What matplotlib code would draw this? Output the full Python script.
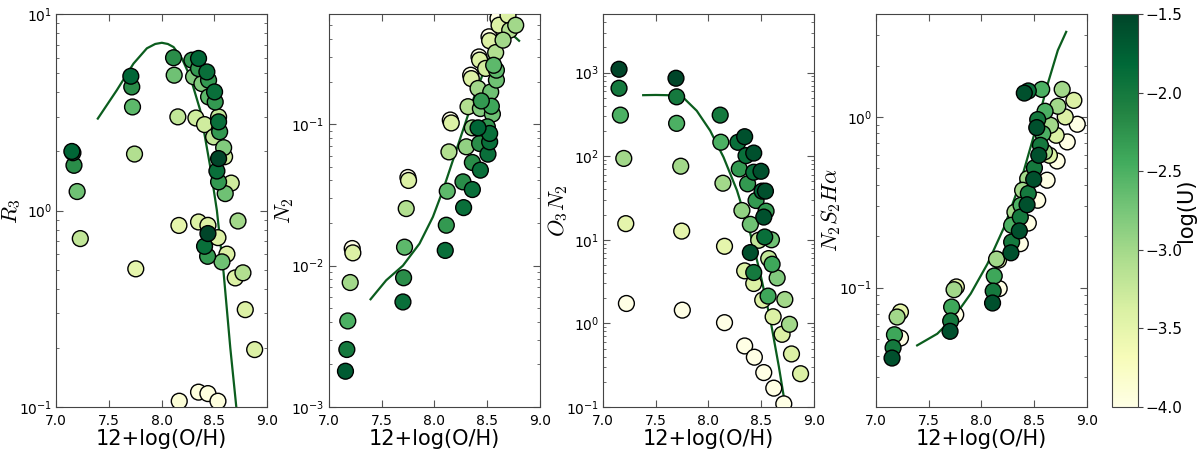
import numpy as np
import matplotlib.pyplot as plt
import matplotlib as mpl

# ---- panel 1: R3 ----
r3_x = [7.15, 7.16, 7.17, 7.20, 7.23,
        7.709, 7.718, 7.725, 7.744, 7.756,
        8.114, 8.120, 8.155, 8.165, 8.168,
        8.288, 8.351, 8.351, 8.304, 8.383, 8.430, 8.446, 8.503, 8.446, 8.509,
        8.326, 8.408, 8.541, 8.541, 8.551, 8.494, 8.589, 8.598, 8.541, 8.525,
        8.541, 8.661, 8.604,
        8.351, 8.440, 8.440, 8.535, 8.408, 8.437, 8.620, 8.573, 8.725, 8.699,
        8.772, 8.794, 8.883, 8.351, 8.440, 8.535]
r3_y = [2.0, 1.97, 1.70, 1.25, 0.72,
        4.83, 4.26, 3.37, 1.94, 0.505,
        6.0, 4.89, 3.0, 0.84, 0.107,
        5.83, 5.95, 5.28, 4.80, 4.43, 5.08, 4.61, 4.02, 3.79, 3.57,
        2.96, 2.74, 3.0, 2.83, 2.52, 2.37, 2.09, 1.88, 1.84, 1.59,
        1.40, 1.38, 1.22,
        0.875, 0.841, 0.764, 0.728, 0.658, 0.585, 0.60, 0.548, 0.885, 0.454,
        0.482, 0.313, 0.196, 0.119, 0.117, 0.107]
r3_u = [-1.8, -1.9, -2.2, -2.7, -3.2,
        -1.8, -2.2, -2.6, -3.1, -3.5,
        -2.2, -2.7, -3.2, -3.5, -3.9,
        -2.3, -1.8, -2.3, -2.8, -2.8, -1.9, -2.3, -1.9, -2.6, -2.3,
        -3.3, -3.3, -3.2, -1.9, -2.3, -3.2, -2.8, -3.3, -1.5, -1.9,
        -2.3, -3.3, -2.7,
        -3.4, -3.4, -1.5, -3.4, -1.9, -2.3, -3.4, -2.7, -3.0, -3.4,
        -3.1, -3.4, -3.4, -3.95, -3.95, -3.95]
r3_cx = [7.396, 7.576, 7.734, 7.861, 7.94, 8.003, 8.06, 8.114, 8.193, 8.272,
         8.367, 8.462, 8.525, 8.589, 8.652, 8.709]
r3_cy = [2.94, 4.1, 5.6, 6.7, 7.05, 7.15, 7.05, 6.8, 5.95, 4.8,
         3.24, 1.67, 1.0, 0.48, 0.2, 0.1]

# ---- panel 2: N2 ----
n2_x = [7.158, 7.171, 7.180, 7.203, 7.222, 7.228,
        7.703, 7.709, 7.718, 7.734, 7.750, 7.756,
        8.104, 8.114, 8.123, 8.139, 8.152, 8.161,
        8.278, 8.272, 8.361, 8.361, 8.304, 8.437, 8.415, 8.361, 8.430, 8.509,
        8.525, 8.525, 8.503, 8.446, 8.437, 8.541, 8.551, 8.320, 8.415, 8.535,
        8.589, 8.589, 8.563, 8.487, 8.345, 8.351, 8.424, 8.430, 8.582, 8.519,
        8.525, 8.652, 8.715, 8.772, 8.604, 8.614, 8.699]
n2_y = [1.79e-3, 2.55e-3, 4.06e-3, 7.59e-3, 1.32e-2, 1.23e-2,
        5.53e-3, 8.2e-3, 1.35e-2, 2.53e-2, 4.2e-2, 4.0e-2,
        1.28e-2, 1.93e-2, 3.36e-2, 6.37e-2, 0.107, 0.102,
        2.57e-2, 3.91e-2, 3.45e-2, 5.36e-2, 6.92e-2, 4.73e-2, 9.42e-2, 9.42e-2,
        7.3e-2, 6.14e-2, 7.5e-2, 8.6e-2, 9.58e-2, 0.146, 0.129, 0.134, 0.118,
        0.133, 0.179, 0.169, 0.205, 0.241, 0.261, 0.248, 0.222, 0.21, 0.299,
        0.284, 0.321, 0.415, 0.389, 0.393, 0.462, 0.501, 0.56, 0.501, 0.59]
n2_u = [-1.7, -2.0, -2.5, -3.0, -4.0, -3.4,
        -1.9, -2.2, -2.6, -3.1, -4.0, -3.4,
        -1.9, -2.3, -2.6, -3.1, -4.0, -3.4,
        -1.9, -2.2, -1.9, -2.2, -2.9, -1.9, -1.8, -2.9, -2.2, -1.9,
        -1.9, -1.9, -2.3, -2.3, -2.8, -2.4, -2.7, -3.1, -3.0, -2.7,
        -2.7, -2.6, -2.6, -3.3, -4.0, -3.4, -4.0, -3.4, -3.1, -4.0,
        -3.4, -3.0, -3.1, -3.0, -4.0, -3.4, -3.4]
n2_cx = [7.396, 7.544, 7.703, 7.86, 7.987, 8.082, 8.177, 8.272, 8.367, 8.462,
         8.557, 8.62, 8.684, 8.74, 8.804]
n2_cy = [0.00578, 0.00787, 0.0100, 0.0143, 0.0221, 0.0341, 0.0556, 0.0907,
         0.148, 0.228, 0.334, 0.40, 0.438, 0.43, 0.389]

# ---- panel 3: O3N2 ----
o3n2_x = [7.152, 7.152, 7.165, 7.197, 7.216, 7.222,
          7.692, 7.698, 7.698, 7.737, 7.746, 7.752,
          8.111, 8.117, 8.137, 8.152, 8.152,
          8.279, 8.343, 8.356, 8.429, 8.292, 8.429, 8.498, 8.371, 8.508, 8.540,
          8.451, 8.546, 8.524, 8.317, 8.397, 8.476, 8.533, 8.597, 8.397, 8.571,
          8.603, 8.429, 8.343, 8.651, 8.429, 8.565, 8.514, 8.724, 8.613, 8.768,
          8.698, 8.343, 8.787, 8.435, 8.524, 8.873, 8.619, 8.714]
o3n2_y = [1096, 650, 310, 94, 15.6, 1.73,
          856, 513, 247, 75.9, 12.7, 1.44,
          310, 147, 47.5, 8.36, 1.02,
          146.6, 171, 101.6, 109, 70.5, 64.3, 66, 46.7, 38.2, 38.2,
          29.5, 22, 18.7, 22.4, 15.3, 9.86, 10.8, 10.0, 7.03, 5.96,
          5.1, 4.06, 4.25, 3.5, 3.0, 2.12, 1.9, 1.93, 1.2, 0.975,
          0.74, 0.537, 0.431, 0.394, 0.258, 0.25, 0.168, 0.109]
o3n2_u = [-1.5, -2.0, -2.5, -3.0, -3.5, -4.0,
          -1.5, -2.0, -2.5, -3.0, -3.5, -4.0,
          -2.0, -2.5, -3.0, -3.5, -4.0,
          -1.9, -1.6, -1.9, -1.6, -2.3, -1.9, -1.6, -2.3, -1.8, -1.6,
          -2.3, -2.3, -1.6, -2.9, -2.7, -3.2, -1.9, -2.7, -1.6, -3.2,
          -2.4, -2.0, -3.4, -2.8, -3.4, -2.4, -3.4, -3.0, -3.4, -3.0,
          -3.4, -4.0, -3.4, -4.0, -4.0, -3.4, -4.0, -4.0]
o3n2_cx = [7.381, 7.50, 7.603, 7.70, 7.762, 7.889, 8.016, 8.143, 8.27, 8.397,
           8.492, 8.587, 8.667, 8.73]
o3n2_cy = [537, 540, 537, 530, 501, 349, 202, 97, 39, 11.8, 3.9, 1.1, 0.305, 0.1]

# ---- panel 4: N2S2Ha ----
n2s2_x = [7.152, 7.162, 7.175, 7.232, 7.200, 7.232,
          7.702, 7.708, 7.717, 7.756, 7.740, 7.762,
          8.105, 8.111, 8.121, 8.168, 8.143, 8.162,
          8.406, 8.444, 8.571, 8.765, 8.876, 8.724, 8.603, 8.533, 8.654, 8.794,
          8.908, 8.524, 8.581, 8.708, 8.813, 8.559, 8.597, 8.543, 8.644, 8.717,
          8.502, 8.438, 8.495, 8.622, 8.390, 8.444, 8.533, 8.432, 8.375, 8.317,
          8.368, 8.444, 8.286, 8.359, 8.286, 8.368, 8.279]
n2s2_y = [0.0387, 0.0445, 0.053, 0.0507, 0.0673, 0.072,
          0.0555, 0.0638, 0.077, 0.0695, 0.0973, 0.101,
          0.0813, 0.0955, 0.117, 0.0987, 0.147, 0.145,
          1.38, 1.42, 1.45, 1.45, 1.25, 1.155, 1.08, 0.965, 0.894, 1.0,
          0.906, 0.866, 0.798, 0.781, 0.714, 0.682, 0.624, 0.596, 0.596, 0.552,
          0.503, 0.435, 0.431, 0.426, 0.372, 0.356, 0.325, 0.306, 0.304, 0.277,
          0.259, 0.239, 0.232, 0.215, 0.185, 0.181, 0.16]
n2s2_u = [-1.6, -2.0, -2.4, -4.0, -3.0, -3.5,
          -1.6, -2.0, -2.4, -4.0, -3.0, -3.5,
          -1.6, -2.0, -2.4, -4.0, -3.0, -3.5,
          -1.6, -1.9, -2.5, -3.0, -3.4, -3.0, -2.5, -2.0, -3.0, -3.4,
          -4.0, -1.6, -2.5, -3.4, -4.0, -2.0, -3.0, -1.6, -3.4, -4.0,
          -2.0, -3.0, -1.6, -4.0, -3.0, -2.0, -4.0, -1.6, -2.5, -3.0,
          -2.0, -4.0, -2.5, -1.6, -2.0, -4.0, -1.6]
n2s2_cx = [7.39, 7.581, 7.74, 7.898, 8.057, 8.216, 8.375, 8.502, 8.629, 8.724,
           8.803]
n2s2_cy = [0.0459, 0.0537, 0.0673, 0.0922, 0.138, 0.227, 0.425, 0.798, 1.57,
           2.46, 3.15]

panels = [
    (r3_x, r3_y, r3_u, r3_cx, r3_cy, r'$R_3$', (0.1, 10)),
    (n2_x, n2_y, n2_u, n2_cx, n2_cy, r'$N_2$', (1e-3, 0.6)),
    (o3n2_x, o3n2_y, o3n2_u, o3n2_cx, o3n2_cy, r'$O_3N_2$', (0.1, 5000)),
    (n2s2_x, n2s2_y, n2s2_u, n2s2_cx, n2s2_cy, r'$N_2S_2H\alpha$', (0.02, 4)),
]

fig = plt.figure(figsize=(12, 4.51), dpi=100)
lefts = [0.0467, 0.274, 0.5025, 0.73]
cmap = plt.get_cmap('YlGn')
norm = mpl.colors.Normalize(vmin=-4, vmax=-1.5)

for left, (x, y, u, cx, cy, lab, ylim) in zip(lefts, panels):
    ax = fig.add_axes([left, 0.0976, 0.1758, 0.871])
    x = np.array(x); y = np.array(y); u = np.array(u)
    order = np.argsort(u, kind='stable')
    ax.scatter(x[order], y[order], c=u[order], cmap=cmap, norm=norm, s=130,
               edgecolors='black', linewidths=1.0, zorder=3)
    ax.plot(cx, cy, color='#0b5d1e', lw=1.6, zorder=2)
    ax.set_yscale('log')
    ax.set_xlim(7.0, 9.0)
    ax.set_ylim(*ylim)
    ax.set_xticks([7.0, 7.5, 8.0, 8.5, 9.0])
    ax.set_xticklabels(['7.0', '7.5', '8.0', '8.5', '9.0'])
    ax.tick_params(which='both', direction='in', top=True, right=True,
                   labelsize=10, color='#555555', pad=3)
    ax.tick_params(axis='x', pad=5)
    ax.tick_params(which='major', length=5)
    ax.tick_params(which='minor', length=2.5)
    for sp in ax.spines.values():
        sp.set_color('#444444')
    ax.set_xlabel('12+log(O/H)', fontsize=15, labelpad=1)
    ax.set_ylabel(lab, fontsize=16, math_fontfamily='cm')
    ax.yaxis.set_label_coords(-0.155, 0.5)

cax = fig.add_axes([0.9267, 0.0976, 0.0217, 0.871])
cb = fig.colorbar(mpl.cm.ScalarMappable(norm=norm, cmap=cmap), cax=cax)
cb.set_ticks([-4.0, -3.5, -3.0, -2.5, -2.0, -1.5])
cb.ax.tick_params(labelsize=11, direction='out', length=3.5, color='#444444',
                  pad=2)
cb.outline.set_edgecolor('#444444')
cb.set_label('log(U)', fontsize=15)
cb.ax.yaxis.set_label_coords(2.45, 0.5)

fig.savefig('out.png', dpi=100)
